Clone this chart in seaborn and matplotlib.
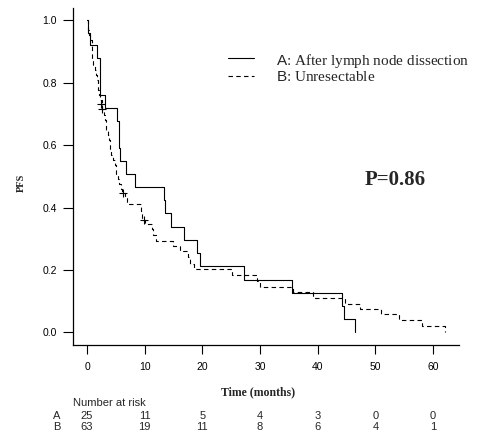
import matplotlib
matplotlib.use("Agg")
import matplotlib.pyplot as plt
import seaborn as sns
import pandas as pd
from matplotlib.lines import Line2D
from matplotlib.transforms import blended_transform_factory

# ---- data ----
time_a = [0, 0.2, 0.5, 1.8, 2.3, 3.2, 5.2, 5.5, 5.8, 6.8, 8.3, 13.4, 13.6, 14.5,
          16.8, 19.1, 19.5, 27.2, 35.6, 44.2, 44.5, 46.5]
surv_a = [1.0, 0.96, 0.92, 0.88, 0.76, 0.72, 0.676, 0.591, 0.548, 0.509, 0.465,
          0.423, 0.381, 0.338, 0.296, 0.254, 0.212, 0.169, 0.127, 0.085, 0.042, 0.0]

time_b = [0, 0.2, 0.4, 0.6, 0.8, 0.9, 1.1, 1.3, 1.5, 1.7, 1.9, 2.1, 2.3, 2.6, 2.9,
          3.1, 3.3, 3.6, 3.8, 4.0, 4.2, 4.5, 4.8, 5.0, 5.1, 5.4, 5.6, 5.9, 6.0, 6.5,
          7.0, 9.3, 9.5, 10.0, 11.2, 11.5, 12.0, 14.9, 16.1, 17.5, 17.9, 18.5, 25.1,
          29.4, 30.0, 35.7, 39.2, 44.8, 47.3, 51.0, 54.1, 58.0, 62.0]
surv_b = [1.0, 0.968, 0.952, 0.937, 0.905, 0.873, 0.857, 0.841, 0.825, 0.81, 0.778,
          0.762, 0.746, 0.714, 0.698, 0.682, 0.65, 0.634, 0.618, 0.586, 0.57, 0.554,
          0.538, 0.522, 0.506, 0.49, 0.474, 0.458, 0.447, 0.431, 0.412, 0.39, 0.361,
          0.347, 0.33, 0.312, 0.292, 0.276, 0.26, 0.24, 0.22, 0.203, 0.183, 0.165,
          0.145, 0.13, 0.11, 0.092, 0.073, 0.057, 0.038, 0.019, 0.0]

cens_a_t = [2.6]
cens_a_s = [0.716]
cens_b_t = [2.5, 6.2, 9.8]
cens_b_s = [0.732, 0.447, 0.361]

risk_times = [0, 10, 20, 30, 40, 50, 60]
risk_a = [25, 11, 5, 4, 3, 0, 0]
risk_b = [63, 19, 11, 8, 6, 4, 1]
group_keys = ["A", "B"]
group_texts = [": After lymph node dissection", ": Unresectable"]
y_ticks = [0.0, 0.2, 0.4, 0.6, 0.8, 1.0]
p_label = "P=0.86"
x_label = "Time (months)"
y_label = "PFS"
risk_title = "Number at risk"

# ---- style ----
sns.set_style("ticks")
plt.rcParams["font.family"] = ["Liberation Sans", "DejaVu Sans"]
plt.rcParams["mathtext.fontset"] = "custom"
plt.rcParams["mathtext.sf"] = "Liberation Sans"
plt.rcParams["mathtext.rm"] = "Liberation Serif"

W, H = 504, 445
fig = plt.figure(figsize=(W / 100, H / 100), dpi=100)
ax = fig.add_axes([72.7 / W, 1 - 344.7 / H, (459 - 72.7) / W, (344.7 - 8) / H])

df_a = pd.DataFrame({"t": time_a, "s": surv_a})
df_b = pd.DataFrame({"t": time_b, "s": surv_b})
lw = 0.8
dash = (0, (4, 3))
sns.lineplot(data=df_a, x="t", y="s", ax=ax, color="black", lw=lw,
             drawstyle="steps-post", estimator=None, sort=False)
sns.lineplot(data=df_b, x="t", y="s", ax=ax, color="black", lw=lw, linestyle=dash,
             drawstyle="steps-post", estimator=None, sort=False)
sns.scatterplot(x=cens_a_t, y=cens_a_s, ax=ax, marker="+", s=40, color="black",
                linewidth=0.8)
sns.scatterplot(x=cens_b_t, y=cens_b_s, ax=ax, marker="+", s=40, color="black",
                linewidth=0.8)

ax.set_xlim(-2.48, 64.48)
ax.set_ylim(-0.04, 1.04)
ax.set_xticks(risk_times)
ax.set_yticks(y_ticks)
ax.set_yticklabels([f"{v:.1f}" for v in y_ticks])
ax.set_xlabel("")
ax.set_ylabel("")
for side in ["top", "right"]:
    ax.spines[side].set_visible(False)
for side in ["left", "bottom"]:
    ax.spines[side].set_linewidth(0.9)
    ax.spines[side].set_color("black")
ax.tick_params(axis="y", direction="out", length=7, width=0.8, pad=4.3,
               labelsize=7.5, colors="black")
ax.tick_params(axis="x", direction="out", length=6.3, width=0.8, pad=6,
               labelsize=7.5, colors="black")

# axis titles
fig.text(258 / W, 1 - 392.7 / H, x_label, ha="center", va="center",
         family="Liberation Serif", weight="bold", fontsize=8.5)
fig.text(21 / W, 1 - 183 / H, y_label, ha="center", va="center", rotation=90,
         family="Liberation Serif", weight="bold", fontsize=7.5)

# P value
ax.text(394.7 / W, 1 - 180 / H, p_label, transform=fig.transFigure, ha="center",
        va="center", family="Liberation Serif", weight="bold", fontsize=15)

# legend (manual, mixed fonts)
leg_styles = ["-", dash]
leg_rows = [58.0, 75.5]
for key, txt, ls, yr in zip(group_keys, group_texts, leg_styles, leg_rows):
    fig.add_artist(Line2D([228.3 / W, 254 / W], [1 - yr / H, 1 - yr / H],
                          transform=fig.transFigure, color="black", lw=lw, ls=ls))
    fig.text(276 / W, 1 - yr / H, r"$\mathsf{" + key + "}$" + txt, ha="left",
             va="center_baseline", family="Liberation Serif", fontsize=11)

# number at risk table
fig.text(72.7 / W, 1 - 403.3 / H, risk_title, ha="left", va="center", fontsize=8)
trans = blended_transform_factory(ax.transData, fig.transFigure)
for key, vals, yr in zip(group_keys, [risk_a, risk_b], [415.7, 426.7]):
    fig.text(56.7 / W, 1 - yr / H, key, ha="center", va="center", fontsize=8)
    for t, n in zip(risk_times, vals):
        ax.text(t, 1 - yr / H, str(n), transform=trans, ha="center", va="center",
                fontsize=8, clip_on=False)

fig.savefig("out.png", dpi=100)
